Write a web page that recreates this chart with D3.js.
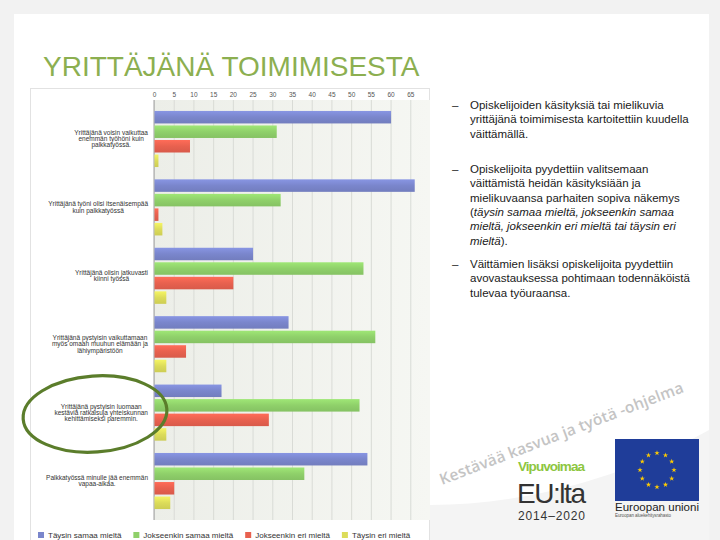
<!DOCTYPE html>
<html><head><meta charset="utf-8">
<script src="https://cdn.jsdelivr.net/npm/d3@7"></script>
<style>body{margin:0;background:#f2f2f2}svg{display:block;font-family:"Liberation Sans",Arial,sans-serif}</style>
</head><body><svg id="c" width="720" height="540"></svg>
<script>
const categories = [
  "Yrittäjänä voisin vaikuttaa\nenemmän työhöni kuin\npalkkatyössä.",
  "Yrittäjänä työni olisi itsenäisempää\nkuin palkkatyössä",
  "Yrittäjänä olisin jatkuvasti\nkiinni työssä",
  "Yrittäjänä pystyisin vaikuttamaan\nmyös omaan muuhun elämään ja\nlähiympäristöön",
  "Yrittäjänä pystyisin luomaan\nkestäviä ratkaisuja yhteiskunnan\nkehittämiseksi paremmin.",
  "Palkkatyössä minulle jää enemmän\nvapaa-aikaa."
];
const seriesNames = ["Täysin samaa mieltä", "Jokseenkin samaa mieltä", "Jokseenkin eri mieltä", "Täysin eri mieltä"];
const taysinSamaa     = [60, 66, 25, 34, 17, 54];
const jokseenkinSamaa = [31, 32, 53, 56, 52, 38];
const jokseenkinEri   = [9, 1, 20, 8, 29, 5];
const taysinEri       = [1, 2, 3, 3, 3, 4];
const xTicks = [0, 5, 10, 15, 20, 25, 30, 35, 40, 45, 50, 55, 60, 65];
const seriesColors = ["#7a86cc", "#8fd06a", "#e8614f", "#dcdc5a"];

const title = "YRITTÄJÄNÄ TOIMIMISESTA";
const bullets = [
  [[["Opiskelijoiden käsityksiä tai mielikuvia", 0]], [["yrittäjänä toimimisesta kartoitettiin kuudella", 0]], [["väittämällä.", 0]]],
  [[["Opiskelijoita pyydettiin valitsemaan", 0]], [["väittämistä heidän käsityksiään ja", 0]], [["mielikuvaansa parhaiten sopiva näkemys", 0]],
   [["(", 0], ["täysin samaa mieltä, jokseenkin samaa", 1]], [["mieltä, jokseenkin eri mieltä tai täysin eri", 1]], [["mieltä", 1], [").", 0]]],
  [[["Väittämien lisäksi opiskelijoita pyydettiin", 0]], [["avovastauksessa pohtimaan todennäköistä", 0]], [["tulevaa työuraansa.", 0]]]
];
const sloganWords = ["Kestävää", "kasvua", "ja", "työtä", "-ohjelma"];

const values = [taysinSamaa, jokseenkinSamaa, jokseenkinEri, taysinEri];
const svg = d3.select("#c");

// slide background
svg.append("rect").attr("x", 14).attr("y", 14).attr("width", 695).attr("height", 530).attr("fill", "#ffffff");
svg.append("path").attr("d", "M430,545 L430,505 C520,505 620,480 709,430 L709,545 Z").attr("fill", "#f4f4f4");

svg.append("text").attr("x", 43).attr("y", 76).attr("font-size", 28).attr("fill", "#8caf50").text(title);

// chart frame
svg.append("rect").attr("x", 30.5).attr("y", 88.5).attr("width", 399).attr("height", 460).attr("fill", "#ffffff").attr("stroke", "#e2e2e2");

const x = d3.scaleLinear().domain([0, 70]).range([154, 430]);
const y0 = d3.scaleBand().domain(d3.range(categories.length)).range([100, 520]).paddingInner(0.18).paddingOuter(0.16);
const y1 = d3.scaleBand().domain(d3.range(seriesNames.length)).range([0, y0.bandwidth()]).paddingInner(0.14);

const defs = svg.append("defs");
const bg = defs.append("linearGradient").attr("id", "bg").attr("x1", 0).attr("x2", 1).attr("y1", 0).attr("y2", 0);
bg.append("stop").attr("offset", 0).attr("stop-color", "#eceee8");
bg.append("stop").attr("offset", 1).attr("stop-color", "#f6f7f3");
svg.append("rect").attr("x", x(0)).attr("y", 100).attr("width", x(70) - x(0)).attr("height", 420).attr("fill", "url(#bg)");

seriesColors.forEach((c, i) => {
  const g = defs.append("linearGradient").attr("id", "g" + i).attr("x1", 0).attr("x2", 0).attr("y1", 0).attr("y2", 1);
  g.append("stop").attr("offset", 0).attr("stop-color", d3.color(c).brighter(0.3));
  g.append("stop").attr("offset", 0.5).attr("stop-color", c);
  g.append("stop").attr("offset", 1).attr("stop-color", d3.color(c).darker(0.2));
});

// axis with gridlines
const ax = svg.append("g").attr("transform", "translate(0,100)")
  .call(d3.axisTop(x).tickValues(xTicks).tickSize(-420).tickPadding(3));
ax.select(".domain").remove();
ax.selectAll(".tick line").attr("stroke", "#d9dbd6");
ax.selectAll(".tick text").attr("fill", "#555").attr("font-size", 6.5).attr("font-family", "Liberation Sans, Arial");
svg.append("line").attr("x1", x(0)).attr("x2", x(0)).attr("y1", 100).attr("y2", 520).attr("stroke", "#a0a0a0");

// bars
const groups = svg.append("g").selectAll("g").data(categories).join("g")
  .attr("transform", (d, i) => `translate(0,${y0(i)})`);
groups.selectAll("rect").data((d, i) => values.map((s, k) => ({ k, v: s[i] }))).join("rect")
  .attr("x", x(0) + 0.5).attr("y", d => y1(d.k)).attr("height", y1.bandwidth())
  .attr("width", d => x(d.v) - x(0)).attr("fill", d => `url(#g${d.k})`);

// category labels
const labels = svg.append("g").attr("font-size", 6.5).attr("fill", "#333");
categories.forEach((c, i) => {
  const lines = c.split("\n");
  const t = labels.append("text").attr("text-anchor", "middle");
  const cy = y0(i) + y0.bandwidth() / 2;
  lines.forEach((l, j) => t.append("tspan").attr("y", cy + (j - (lines.length - 1) / 2) * 6.2 + 2.2).text(l));
  let w = 0;
  t.selectAll("tspan").each(function () { w = Math.max(w, this.getComputedTextLength()); });
  t.selectAll("tspan").attr("x", 148 - w / 2);
});

// legend
const lg = svg.append("g").attr("font-size", 8).attr("fill", "#333");
let lx = 38;
seriesNames.forEach((n, i) => {
  lg.append("rect").attr("x", lx).attr("y", 532).attr("width", 6).attr("height", 6).attr("fill", seriesColors[i]);
  const t = lg.append("text").attr("x", lx + 10).attr("y", 538).text(n);
  lx += 10 + t.node().getComputedTextLength() + 12;
});

// green ellipse highlight
svg.append("ellipse").attr("cx", 95).attr("cy", 414).attr("rx", 72).attr("ry", 38)
  .attr("fill", "none").attr("stroke", "#5b7d2b").attr("stroke-width", 3.2).attr("transform", "rotate(-4,95,414)");

// right text
const rt = svg.append("g").attr("font-size", 11.5).attr("fill", "#1a1a1a");
const starts = [109, 173, 268];
bullets.forEach((b, bi) => {
  rt.append("text").attr("x", 452).attr("y", starts[bi]).text("–");
  b.forEach((line, li) => {
    const t = rt.append("text").attr("x", 470).attr("y", starts[bi] + li * 14.3);
    line.forEach(([s, it]) => t.append("tspan").attr("font-style", it ? "italic" : "normal").text(s));
  });
});

// slogan, word by word along a rising line
const sx0 = 442, sy0 = 485, ang = -21;
const rad = ang * Math.PI / 180;
const sg = svg.append("g").attr("font-family", "Open Sans, sans-serif").attr("font-weight", 600).attr("font-size", 15.5)
  .attr("fill", "#c4c4c4").attr("letter-spacing", 0.2);
let off = 0;
sloganWords.forEach(w => {
  const t = sg.append("text").text(w);
  const len = t.node().getComputedTextLength();
  const px = sx0 + off * Math.cos(rad), py = sy0 + off * Math.sin(rad);
  t.attr("transform", `translate(${px},${py}) rotate(${ang})`);
  off += len + 4;
});

// Vipuvoimaa logo
svg.append("text").attr("x", 518).attr("y", 471).attr("font-size", 13.5).attr("font-weight", "bold").attr("fill", "#8dc63f")
  .attr("textLength", 67).text("Vipuvoimaa");
svg.append("text").attr("x", 517).attr("y", 503).attr("font-size", 28).attr("fill", "#333")
  .attr("textLength", 69).text("EU:lta");
svg.append("text").attr("x", 518).attr("y", 520).attr("font-size", 12).attr("fill", "#333")
  .attr("textLength", 67).text("2014–2020");

// EU flag
svg.append("rect").attr("x", 615).attr("y", 439).attr("width", 84).attr("height", 62).attr("fill", "#1f3d99");
const star = d3.symbol().type(d3.symbolStar).size(9);
d3.range(12).forEach(k => {
  const a = k * Math.PI / 6;
  svg.append("path").attr("d", star).attr("fill", "#ffcc00")
    .attr("transform", `translate(${657 + 17 * Math.sin(a)},${470 - 17 * Math.cos(a)})`);
});
svg.append("text").attr("x", 615).attr("y", 511).attr("font-size", 11.5).attr("fill", "#222").attr("textLength", 84).text("Euroopan unioni");
svg.append("text").attr("x", 615).attr("y", 517).attr("font-size", 4.5).attr("fill", "#555").attr("textLength", 56).text("Euroopan aluekehitysrahasto");
</script></body></html>
